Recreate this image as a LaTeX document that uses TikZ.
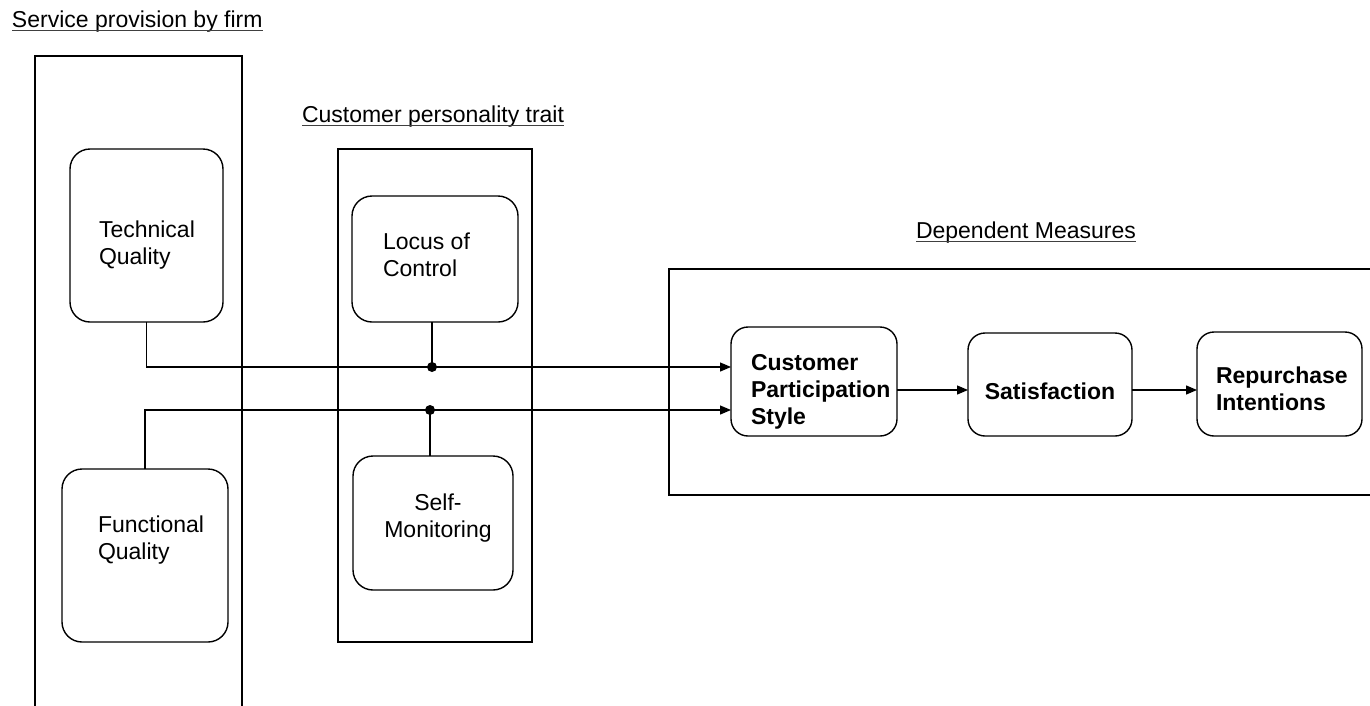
\documentclass[tikz,border=0pt]{standalone}
\usepackage{fontspec}
\setmainfont{Liberation Sans}
\usetikzlibrary{arrows.meta}
\begin{document}
\begin{tikzpicture}[x=1pt, y=-1pt,
  every node/.style={inner sep=0pt, outer sep=0pt},
  frame/.style={draw, line width=1.5pt, rectangle},
  factor/.style={draw, line width=1.4pt, rectangle, rounded corners=20pt},
  measure/.style={draw, line width=1.4pt, rectangle, rounded corners=17pt},
  boxtext/.style={font=\fontsize{23}{27}\selectfont, align=left},
  boldtext/.style={font=\fontsize{23}{27}\selectfont\bfseries, align=left},
  heading/.style={font=\fontsize{23}{27}\selectfont},
  uline/.style={line width=1pt, black!75},
  link/.style={line width=1.3pt},
  arrowlink/.style={link, -{Triangle[length=11pt,width=9pt]}},
  junction/.style={fill=black}
]
\useasboundingbox (0,0) rectangle (1370,705);
\clip (0,0) rectangle (1370,705);

% group frames
\node[frame, minimum width=207pt, minimum height=684pt] (firm) at (138.5,398) {};
\node[frame, minimum width=194pt, minimum height=493pt] (trait) at (435,395.5) {};
\node[frame, line width=1.8pt, minimum width=731pt, minimum height=226pt] (dep) at (1034.5,382) {};

% group headings
\node[heading, anchor=base west] (h1) at (12,27) {Service provision by firm};
\draw[uline] ([yshift=-3pt]h1.base west) -- ([yshift=-3pt]h1.base east);
\node[heading, anchor=base west] (h2) at (302,122) {Customer personality trait};
\draw[uline] ([yshift=-3pt]h2.base west) -- ([yshift=-3pt]h2.base east);
\node[heading, anchor=base west] (h3) at (916,238) {Dependent Measures};
\draw[uline] ([yshift=-3pt]h3.base west) -- ([yshift=-3pt]h3.base east);

% service quality factors (text anchored at the baseline of its last line)
\node[factor, minimum width=153pt, minimum height=173pt] (tq) at (146.5,235.5) {};
\node[boxtext, anchor=base west] (tq-t) at (99,264.5) {Technical\\Quality};
\node[factor, minimum width=166pt, minimum height=173pt] (fq) at (145,555.5) {};
\node[boxtext, anchor=base west] (fq-t) at (98,559.5) {Functional\\Quality};

% personality traits
\node[factor, minimum width=166pt, minimum height=126pt] (loc) at (435,259) {};
\node[boxtext, anchor=base west] (loc-t) at (383,276.5) {Locus of\\Control};
\node[factor, minimum width=160pt, minimum height=134pt] (sm) at (433,523) {};
\node[boxtext, align=center, anchor=base] (sm-t) at (438,537.5) {Self-\\Monitoring};

% dependent measures
\node[measure, minimum width=166pt, minimum height=109pt] (cps) at (814,381.5) {};
\node[boldtext, anchor=base west] (cps-t) at (751,424.5) {Customer\\Participation\\Style};
\node[measure, minimum width=164pt, minimum height=103pt] (sat) at (1050,384.5) {};
\node[boldtext, anchor=base] (sat-t) at (1050,399) {Satisfaction};
\node[measure, minimum width=165pt, minimum height=104pt] (rep) at (1279.5,384) {};
\node[boldtext, anchor=base west] (rep-t) at (1216,410.5) {Repurchase\\Intentions};

% junctions where the traits meet the quality paths
\coordinate (j1) at (432,367);
\coordinate (j2) at (430,410);
\coordinate (chain) at (0,390);

\draw[arrowlink] (tq.south) |- (j1) -- (cps.west |- j1);
\draw[arrowlink] (fq.north) |- (j2) -- (cps.west |- j2);
\draw[link] (j1 |- loc.south) -- (j1);
\draw[link] (j2) -- (j2 |- sm.north);
\fill[junction] (j1) circle (5pt);
\fill[junction] (j2) circle (5pt);

\draw[arrowlink] (cps.east |- chain) -- (sat.west |- chain);
\draw[arrowlink] (sat.east |- chain) -- (rep.west |- chain);
\end{tikzpicture}
\end{document}
